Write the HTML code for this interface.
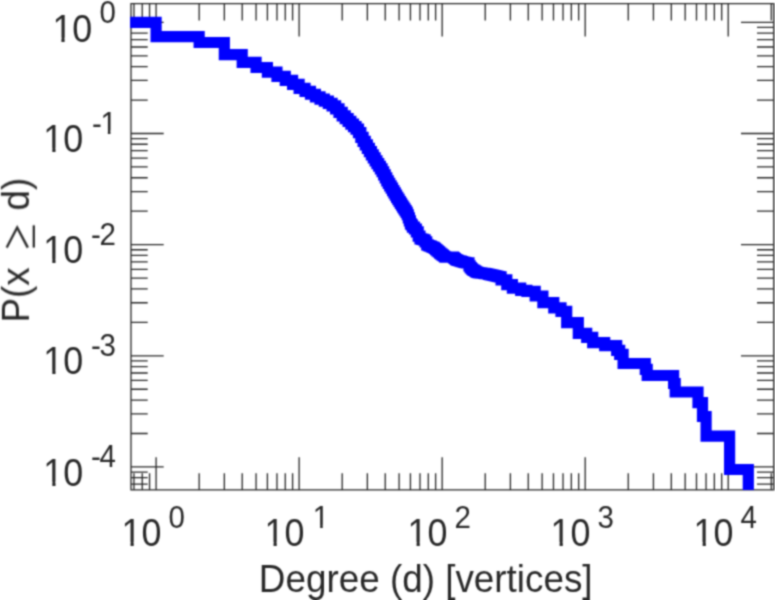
<!DOCTYPE html>
<html><head><meta charset="utf-8"><title>plot</title>
<style>
html,body{margin:0;padding:0;background:#fff;}
body{width:775px;height:600px;overflow:hidden;}
svg{display:block;}
text{font-family:"Liberation Sans",sans-serif;fill:#262626;}
</style></head><body>
<svg width="775" height="600" viewBox="0 0 775 600">
<defs><clipPath id="c"><rect x="130.1" y="3.7" width="643.6" height="486.2"/></clipPath><clipPath id="k38"><path d="M-2,-42.68 H38.8 V-3.90 H13.19 V3 H9.76 V-3.90 H-2 Z"/></clipPath><clipPath id="k30"><path d="M-2,-33.99 H30.9 V-3.31 H10.50 V3 H7.77 V-3.31 H-2 Z"/></clipPath>
<filter id="soft" filterUnits="userSpaceOnUse" x="0" y="0" width="775" height="600" color-interpolation-filters="sRGB"><feConvolveMatrix order="5" kernelMatrix="0.00034 0.00412 0.00948 0.00412 0.00034 0.00412 0.05017 0.11540 0.05017 0.00412 0.00948 0.11540 0.26548 0.11540 0.00948 0.00412 0.05017 0.11540 0.05017 0.00412 0.00034 0.00412 0.00948 0.00412 0.00034" divisor="1" edgeMode="duplicate" preserveAlpha="true"/></filter></defs>
<g filter="url(#soft)">
<rect x="-10" y="-10" width="795" height="620" fill="#fff"/>
<g fill="none" stroke="#262626" stroke-width="1.3">
<path d="M131.0,3.7H773.7V489.9H131.0ZM133.94,489.90L133.94,473.20M133.94,3.70L133.94,20.40M142.24,489.90L142.24,473.20M142.24,3.70L142.24,20.40M149.56,489.90L149.56,473.20M149.56,3.70L149.56,20.40M156.10,489.90L156.10,473.20M156.10,3.70L156.10,20.40M156.10,489.90L156.10,457.20M156.10,3.70L156.10,36.40M199.16,489.90L199.16,473.20M199.16,3.70L199.16,20.40M224.34,489.90L224.34,473.20M224.34,3.70L224.34,20.40M242.21,489.90L242.21,473.20M242.21,3.70L242.21,20.40M256.07,489.90L256.07,473.20M256.07,3.70L256.07,20.40M267.40,489.90L267.40,473.20M267.40,3.70L267.40,20.40M276.97,489.90L276.97,473.20M276.97,3.70L276.97,20.40M285.27,489.90L285.27,473.20M285.27,3.70L285.27,20.40M292.59,489.90L292.59,473.20M292.59,3.70L292.59,20.40M299.13,489.90L299.13,473.20M299.13,3.70L299.13,20.40M299.13,489.90L299.13,457.20M299.13,3.70L299.13,36.40M342.19,489.90L342.19,473.20M342.19,3.70L342.19,20.40M367.37,489.90L367.37,473.20M367.37,3.70L367.37,20.40M385.24,489.90L385.24,473.20M385.24,3.70L385.24,20.40M399.10,489.90L399.10,473.20M399.10,3.70L399.10,20.40M410.43,489.90L410.43,473.20M410.43,3.70L410.43,20.40M420.00,489.90L420.00,473.20M420.00,3.70L420.00,20.40M428.30,489.90L428.30,473.20M428.30,3.70L428.30,20.40M435.62,489.90L435.62,473.20M435.62,3.70L435.62,20.40M442.16,489.90L442.16,473.20M442.16,3.70L442.16,20.40M442.16,489.90L442.16,457.20M442.16,3.70L442.16,36.40M485.22,489.90L485.22,473.20M485.22,3.70L485.22,20.40M510.40,489.90L510.40,473.20M510.40,3.70L510.40,20.40M528.27,489.90L528.27,473.20M528.27,3.70L528.27,20.40M542.13,489.90L542.13,473.20M542.13,3.70L542.13,20.40M553.46,489.90L553.46,473.20M553.46,3.70L553.46,20.40M563.03,489.90L563.03,473.20M563.03,3.70L563.03,20.40M571.33,489.90L571.33,473.20M571.33,3.70L571.33,20.40M578.65,489.90L578.65,473.20M578.65,3.70L578.65,20.40M585.19,489.90L585.19,473.20M585.19,3.70L585.19,20.40M585.19,489.90L585.19,457.20M585.19,3.70L585.19,36.40M628.25,489.90L628.25,473.20M628.25,3.70L628.25,20.40M653.43,489.90L653.43,473.20M653.43,3.70L653.43,20.40M671.30,489.90L671.30,473.20M671.30,3.70L671.30,20.40M685.16,489.90L685.16,473.20M685.16,3.70L685.16,20.40M696.49,489.90L696.49,473.20M696.49,3.70L696.49,20.40M706.06,489.90L706.06,473.20M706.06,3.70L706.06,20.40M714.36,489.90L714.36,473.20M714.36,3.70L714.36,20.40M721.68,489.90L721.68,473.20M721.68,3.70L721.68,20.40M728.22,489.90L728.22,473.20M728.22,3.70L728.22,20.40M728.22,489.90L728.22,457.20M728.22,3.70L728.22,36.40M771.28,489.90L771.28,473.20M771.28,3.70L771.28,20.40M131.00,484.17L147.70,484.17M773.70,484.17L757.00,484.17M131.00,477.72L147.70,477.72M773.70,477.72L757.00,477.72M131.00,472.04L147.70,472.04M773.70,472.04L757.00,472.04M131.00,466.95L147.70,466.95M773.70,466.95L757.00,466.95M131.00,466.95L163.70,466.95M773.70,466.95L741.00,466.95M131.00,433.49L147.70,433.49M773.70,433.49L757.00,433.49M131.00,413.92L147.70,413.92M773.70,413.92L757.00,413.92M131.00,400.03L147.70,400.03M773.70,400.03L757.00,400.03M131.00,389.26L147.70,389.26M773.70,389.26L757.00,389.26M131.00,380.46L147.70,380.46M773.70,380.46L757.00,380.46M131.00,373.02L147.70,373.02M773.70,373.02L757.00,373.02M131.00,366.57L147.70,366.57M773.70,366.57L757.00,366.57M131.00,360.89L147.70,360.89M773.70,360.89L757.00,360.89M131.00,355.80L147.70,355.80M773.70,355.80L757.00,355.80M131.00,355.80L163.70,355.80M773.70,355.80L741.00,355.80M131.00,322.34L147.70,322.34M773.70,322.34L757.00,322.34M131.00,302.77L147.70,302.77M773.70,302.77L757.00,302.77M131.00,288.88L147.70,288.88M773.70,288.88L757.00,288.88M131.00,278.11L147.70,278.11M773.70,278.11L757.00,278.11M131.00,269.31L147.70,269.31M773.70,269.31L757.00,269.31M131.00,261.87L147.70,261.87M773.70,261.87L757.00,261.87M131.00,255.42L147.70,255.42M773.70,255.42L757.00,255.42M131.00,249.74L147.70,249.74M773.70,249.74L757.00,249.74M131.00,244.65L147.70,244.65M773.70,244.65L757.00,244.65M131.00,244.65L163.70,244.65M773.70,244.65L741.00,244.65M131.00,211.19L147.70,211.19M773.70,211.19L757.00,211.19M131.00,191.62L147.70,191.62M773.70,191.62L757.00,191.62M131.00,177.73L147.70,177.73M773.70,177.73L757.00,177.73M131.00,166.96L147.70,166.96M773.70,166.96L757.00,166.96M131.00,158.16L147.70,158.16M773.70,158.16L757.00,158.16M131.00,150.72L147.70,150.72M773.70,150.72L757.00,150.72M131.00,144.27L147.70,144.27M773.70,144.27L757.00,144.27M131.00,138.59L147.70,138.59M773.70,138.59L757.00,138.59M131.00,133.50L147.70,133.50M773.70,133.50L757.00,133.50M131.00,133.50L163.70,133.50M773.70,133.50L741.00,133.50M131.00,100.04L147.70,100.04M773.70,100.04L757.00,100.04M131.00,80.47L147.70,80.47M773.70,80.47L757.00,80.47M131.00,66.58L147.70,66.58M773.70,66.58L757.00,66.58M131.00,55.81L147.70,55.81M773.70,55.81L757.00,55.81M131.00,47.01L147.70,47.01M773.70,47.01L757.00,47.01M131.00,39.57L147.70,39.57M773.70,39.57L757.00,39.57M131.00,33.12L147.70,33.12M773.70,33.12L757.00,33.12M131.00,27.44L147.70,27.44M773.70,27.44L757.00,27.44M131.00,22.35L147.70,22.35M773.70,22.35L757.00,22.35M131.00,22.35L163.70,22.35M773.70,22.35L741.00,22.35"/>
</g>
<g clip-path="url(#c)"><path d="M125.00,22.30 L156.10,22.30 L156.10,36.65 L199.16,36.65 L199.16,42.50 L224.34,42.50 L224.34,54.70 L242.21,54.70 L242.21,62.40 L256.07,62.40 L256.07,67.50 L267.40,67.50 L267.40,72.20 L276.97,72.20 L276.97,76.30 L285.27,76.30 L285.27,80.30 L292.59,80.30 L292.59,84.30 L299.13,84.30 L299.13,88.30 L305.05,88.30 L305.05,91.30 L310.46,91.30 L310.46,94.26 L315.43,94.26 L315.43,96.91 L320.03,96.91 L320.03,99.11 L324.32,99.11 L324.32,101.11 L328.33,101.11 L328.33,103.29 L332.09,103.29 L332.09,105.83 L335.64,105.83 L335.64,108.79 L339.00,108.79 L339.00,112.43 L342.19,112.43 L342.19,115.82 L345.22,115.82 L345.22,118.71 L348.11,118.71 L348.11,121.47 L350.87,121.47 L350.87,124.11 L353.51,124.11 L353.51,126.65 L356.05,126.65 L356.05,129.08 L358.48,129.08 L358.48,132.63 L360.83,132.63 L360.83,137.29 L363.09,137.29 L363.09,141.44 L365.27,141.44 L365.27,144.95 L367.37,144.95 L367.37,148.35 L369.41,148.35 L369.41,151.64 L371.38,151.64 L371.38,154.82 L373.29,154.82 L373.29,157.91 L375.15,157.91 L375.15,160.86 L376.95,160.86 L376.95,163.59 L378.70,163.59 L378.70,166.25 L380.40,166.25 L380.40,168.84 L382.06,168.84 L382.06,171.74 L383.67,171.74 L383.67,174.89 L385.24,174.89 L385.24,177.95 L386.78,177.95 L386.78,180.82 L388.27,180.82 L388.27,183.34 L389.73,183.34 L389.73,185.80 L391.16,185.80 L391.16,188.21 L392.56,188.21 L392.56,190.56 L393.92,190.56 L393.92,192.86 L395.26,192.86 L395.26,195.11 L396.57,195.11 L396.57,197.31 L397.85,197.31 L397.85,199.47 L399.10,199.47 L399.10,201.50 L400.33,201.50 L400.33,203.41 L401.54,203.41 L401.54,205.27 L402.72,205.27 L402.72,207.11 L403.88,207.11 L403.88,208.92 L405.02,208.92 L405.02,210.71 L406.14,210.71 L406.14,212.45 L407.24,212.45 L407.24,214.73 L408.32,214.73 L408.32,217.83 L409.38,217.83 L409.38,220.88 L410.43,220.88 L410.43,223.87 L411.46,223.87 L411.46,225.00 L412.47,225.00 L412.47,227.04 L414.44,227.04 L414.44,229.01 L416.35,229.01 L416.35,231.88 L418.20,231.88 L418.20,236.18 L420.00,236.18 L420.00,238.97 L421.75,238.97 L421.75,239.40 L423.46,239.40 L423.46,239.82 L425.11,239.82 L425.11,241.78 L426.73,241.78 L426.73,244.81 L428.30,244.81 L428.30,245.60 L429.83,245.60 L429.83,246.22 L431.33,246.22 L431.33,246.84 L432.79,246.84 L432.79,247.43 L434.22,247.43 L434.22,248.28 L435.62,248.28 L435.62,249.55 L436.98,249.55 L436.98,250.79 L438.32,250.79 L438.32,251.97 L439.62,251.97 L439.62,253.03 L440.91,253.03 L440.91,254.07 L442.16,254.07 L442.16,255.09 L443.39,255.09 L443.39,256.02 L444.60,256.02 L444.60,256.93 L445.78,256.93 L445.78,257.11 L446.94,257.11 L446.94,257.13 L448.08,257.13 L448.08,257.14 L449.20,257.14 L449.20,257.16 L450.30,257.16 L450.30,257.17 L451.38,257.17 L451.38,257.19 L452.44,257.19 L452.44,257.20 L453.49,257.20 L453.49,257.87 L454.51,257.87 L454.51,258.55 L455.52,258.55 L455.52,259.54 L457.01,259.54 L457.01,260.34 L458.46,260.34 L458.46,260.76 L459.87,260.76 L459.87,261.18 L461.26,261.18 L461.26,261.58 L462.62,261.58 L462.62,261.98 L463.94,261.98 L463.94,262.37 L465.24,262.37 L465.24,262.66 L466.51,262.66 L466.51,262.81 L467.76,262.81 L467.76,262.96 L468.98,262.96 L468.98,265.86 L470.18,265.86 L470.18,267.70 L471.36,267.70 L471.36,268.78 L472.51,268.78 L472.51,269.79 L473.64,269.79 L473.64,270.47 L474.75,270.47 L474.75,271.15 L475.85,271.15 L475.85,271.81 L476.92,271.81 L476.92,272.46 L477.98,272.46 L477.98,272.70 L479.02,272.70 L479.02,272.82 L480.04,272.82 L480.04,272.93 L481.04,272.93 L481.04,273.09 L482.36,273.09 L482.36,273.24 L483.64,273.24 L483.64,273.39 L484.90,273.39 L484.90,273.53 L486.14,273.53 L486.14,273.75 L487.35,273.75 L487.35,274.02 L488.54,274.02 L488.54,274.29 L489.71,274.29 L489.71,274.55 L490.85,274.55 L490.85,274.81 L491.98,274.81 L491.98,275.06 L493.08,275.06 L493.08,275.31 L494.17,275.31 L494.17,275.56 L495.23,275.56 L495.23,275.81 L496.28,275.81 L496.28,276.06 L497.31,276.06 L497.31,276.30 L498.33,276.30 L498.33,276.60 L499.57,276.60 L499.57,276.80 L501.10,276.80 L501.10,279.90 L506.80,279.90 L506.80,284.60 L512.40,284.60 L512.40,288.20 L520.70,288.20 L520.70,290.30 L526.90,290.30 L526.90,291.30 L535.20,291.30 L535.20,296.00 L542.90,296.00 L542.90,302.70 L553.80,302.70 L553.80,307.80 L561.00,307.80 L561.00,311.40 L566.70,311.40 L566.70,322.70 L578.30,322.70 L578.30,333.30 L586.70,333.30 L586.70,337.30 L592.70,337.30 L592.70,342.70 L604.70,342.70 L604.70,345.70 L616.70,345.70 L616.70,350.30 L619.70,350.30 L619.70,354.30 L623.10,354.30 L623.10,363.50 L645.30,363.50 L645.30,369.30 L647.20,369.30 L647.20,375.50 L673.60,375.50 L673.60,383.50 L675.20,383.50 L675.20,392.00 L698.00,392.00 L698.00,402.70 L702.50,402.70 L702.50,416.50 L706.10,416.50 L706.10,436.20 L729.60,436.20 L729.60,469.50 L748.30,469.50 L748.30,509.90" fill="none" stroke="#0000ff" stroke-width="11.2" stroke-linejoin="miter" stroke-miterlimit="10"/></g>
<g opacity="0.99">
<g transform="translate(52.40,41.55) scale(0.925,1)" clip-path="url(#k38)"><text font-size="38.8">1</text></g>
<text transform="translate(72.36,41.55) scale(0.925,1)" font-size="38.8">0</text>
<text transform="translate(99.50,23.45) scale(0.955,1)" font-size="30.9">0</text>
<g transform="translate(43.30,152.10) scale(0.925,1)" clip-path="url(#k38)"><text font-size="38.8">1</text></g>
<text transform="translate(63.26,152.10) scale(0.925,1)" font-size="38.8">0</text>
<text transform="translate(91.90,133.80) scale(0.955,1)" font-size="30.9">-</text>
<g transform="translate(100.43,133.80) scale(0.955,1)" clip-path="url(#k30)"><text font-size="30.9">1</text></g>
<g transform="translate(43.30,263.25) scale(0.925,1)" clip-path="url(#k38)"><text font-size="38.8">1</text></g>
<text transform="translate(63.26,263.25) scale(0.925,1)" font-size="38.8">0</text>
<text transform="translate(90.90,244.95) scale(0.955,1)" font-size="30.9">-</text>
<text transform="translate(99.43,244.95) scale(0.955,1)" font-size="30.9">2</text>
<g transform="translate(43.30,374.40) scale(0.925,1)" clip-path="url(#k38)"><text font-size="38.8">1</text></g>
<text transform="translate(63.26,374.40) scale(0.925,1)" font-size="38.8">0</text>
<text transform="translate(90.90,356.10) scale(0.955,1)" font-size="30.9">-</text>
<text transform="translate(99.43,356.10) scale(0.955,1)" font-size="30.9">3</text>
<g transform="translate(43.30,485.55) scale(0.925,1)" clip-path="url(#k38)"><text font-size="38.8">1</text></g>
<text transform="translate(63.26,485.55) scale(0.925,1)" font-size="38.8">0</text>
<text transform="translate(90.90,467.25) scale(0.955,1)" font-size="30.9">-</text>
<text transform="translate(99.43,467.25) scale(0.955,1)" font-size="30.9">4</text>
<g transform="translate(121.50,545.80) scale(0.925,1)" clip-path="url(#k38)"><text font-size="38.8">1</text></g>
<text transform="translate(141.46,545.80) scale(0.925,1)" font-size="38.8">0</text>
<text transform="translate(168.50,528.30) scale(0.955,1)" font-size="30.9">0</text>
<g transform="translate(264.53,545.80) scale(0.925,1)" clip-path="url(#k38)"><text font-size="38.8">1</text></g>
<text transform="translate(284.49,545.80) scale(0.925,1)" font-size="38.8">0</text>
<g transform="translate(312.73,528.30) scale(0.955,1)" clip-path="url(#k30)"><text font-size="30.9">1</text></g>
<g transform="translate(407.56,545.80) scale(0.925,1)" clip-path="url(#k38)"><text font-size="38.8">1</text></g>
<text transform="translate(427.52,545.80) scale(0.925,1)" font-size="38.8">0</text>
<text transform="translate(454.56,528.30) scale(0.955,1)" font-size="30.9">2</text>
<g transform="translate(550.59,545.80) scale(0.925,1)" clip-path="url(#k38)"><text font-size="38.8">1</text></g>
<text transform="translate(570.55,545.80) scale(0.925,1)" font-size="38.8">0</text>
<text transform="translate(597.59,528.30) scale(0.955,1)" font-size="30.9">3</text>
<g transform="translate(693.62,545.80) scale(0.925,1)" clip-path="url(#k38)"><text font-size="38.8">1</text></g>
<text transform="translate(713.58,545.80) scale(0.925,1)" font-size="38.8">0</text>
<text transform="translate(740.62,528.30) scale(0.955,1)" font-size="30.9">4</text>
<text transform="translate(258.80,591.60) scale(0.97,1)" font-size="38">Degree (d) [vertices]</text>
<g transform="translate(28.9,322.5) rotate(-90)"><text transform="scale(0.97,1)" font-size="38">P(x</text><path d="M74.9,-22.3 L94.9,-11.7 L74.9,-1.1 M74.9,4.9 H97.2" fill="none" stroke="#262626" stroke-width="2.4" stroke-linejoin="miter"/><text transform="translate(111.9,0) scale(0.97,1)" font-size="38">d)</text></g>
</g>
</g>
</svg>
</body></html>
